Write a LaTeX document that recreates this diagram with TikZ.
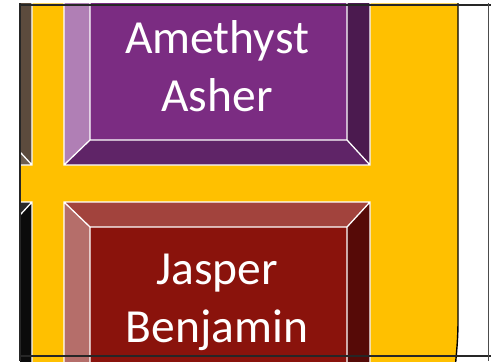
\documentclass[tikz,border=0pt]{standalone}
\usepackage{fontspec}
\setmainfont{Carlito}
\definecolor{gold}{HTML}{FFC000}
\definecolor{amface}{HTML}{7B2C82}
\definecolor{amleft}{HTML}{B07FB5}
\definecolor{amright}{HTML}{4B1A4F}
\definecolor{ambottom}{HTML}{5F2467}
\definecolor{jaface}{HTML}{8A130C}
\definecolor{jatop}{HTML}{A2433D}
\definecolor{jaleft}{HTML}{B56E6A}
\definecolor{jaright}{HTML}{560A07}
\definecolor{umber}{HTML}{5C4B3D}
\definecolor{umberlow}{HTML}{6E5E50}
\definecolor{coal}{HTML}{0B0B0B}
\definecolor{coaltop}{HTML}{2A2A2A}
\tikzstyle{gemlabel}=[text=white, align=center, inner sep=0pt, font=\fontsize{47.5}{58}\selectfont]
\tikzstyle{rim}=[draw=white, line width=1.3pt]
\tikzstyle{frame}=[draw=black!85, line width=1.6pt]
% beveled box: outer x1,y1,x2,y2, then face, top, left, right, bottom colours
\newcommand{\gem}[9]{%
  \fill[#6] (#1,#2)--(#3,#2)--(#3-23,#2+25)--(#1+26,#2+25)--cycle;
  \fill[#7] (#1,#2)--(#1+26,#2+25)--(#1+26,#4-25)--(#1,#4)--cycle;
  \fill[#8] (#3,#2)--(#3,#4)--(#3-23,#4-25)--(#3-23,#2+25)--cycle;
  \fill[#9] (#1,#4)--(#1+26,#4-25)--(#3-23,#4-25)--(#3,#4)--cycle;
  \fill[#5] (#1+26,#2+25) rectangle (#3-23,#4-25);
  \draw[rim] (#1,#2) rectangle (#3,#4) (#1+26,#2+25) rectangle (#3-23,#4-25)
    (#1,#2)--(#1+26,#2+25) (#3,#2)--(#3-23,#2+25)
    (#3,#4)--(#3-23,#4-25) (#1,#4)--(#1+26,#4-25);
}

\begin{document}
\begin{tikzpicture}[x=1pt, y=-1pt]
  \useasboundingbox[fill=white] (0,0) rectangle (492,361);
  \begin{scope}
    \clip (20,3.5) rectangle (492,361);
    % gold panel with its rounded edge on the right
    \fill[gold] (10,3.5) -- (458,3.5) -- (458,320) .. controls (458,340) and (456.5,352) .. (455,370) -- (10,370) -- cycle;
    \draw[black, line width=1.4pt] (458,0) -- (458,320) .. controls (458,340) and (456.5,352) .. (455,370);
    \gem{-300}{-80}{32}{165}{umber}{umber}{umber}{umber}{umberlow}
    \gem{-300}{202}{32}{480}{coal}{coaltop}{coal}{coal}{coal}
    \gem{64}{-80}{370}{165}{amface}{amface}{amleft}{amright}{ambottom}
    \gem{64}{202}{370}{480}{jaface}{jatop}{jaleft}{jaright}{jaface}
  \end{scope}
  \node[gemlabel] (amethyst) at (217,66.5) {Amethyst\\Asher};
  \node[gemlabel] (jasper) at (217,302.5) {Jasper\\Benjamin};
  % outer frame
  \draw[frame] (19,5) -- (491,5);
  \draw[frame] (19,356) -- (491,356);
  \draw[frame] (20,3.5) -- (20,361);
  \draw[frame, draw=black!70] (488.5,3.5) -- (488.5,361);
\end{tikzpicture}
\end{document}
